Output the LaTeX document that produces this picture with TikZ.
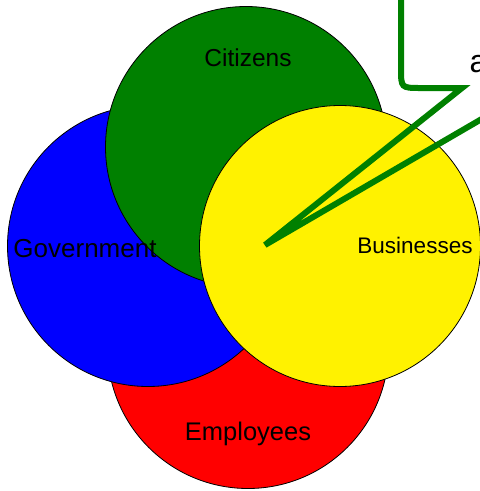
\documentclass[tikz,border=0pt]{standalone}
\usepackage{fontspec}
\setmainfont{Liberation Sans}
\definecolor{leaf}{RGB}{0,128,0}

\begin{document}
\begin{tikzpicture}[x=1pt,y=-1pt,
        group/.style={circle,draw=black,line width=0.8pt,minimum size=281pt,inner sep=0pt},
        tag/.style={anchor=base,font=\fontsize{#1}{28}\selectfont},
        tag/.default=24,
        callout/.style={draw=leaf,line width=6pt,line join=miter}]

    \useasboundingbox (0,0) rectangle (480,491);
    \clip (0,0) rectangle (480,491);

    % groups, back to front
    \node[group, fill=red] (employees) at (248,348) {};
    \node[group, fill=blue] (government) at (148,246) {};
    \node[group, fill=leaf] (citizens) at (246,147) {};
    \node[group, fill=yellow] (businesses) at (340,246) {};

    \node[tag=24.5] (t-citizens) at (248,66) {Citizens};
    \node[tag=26] (t-government) at (85,257) {Government};
    \node[tag=22.5] (t-businesses) at (415,253) {Businesses};
    \node[tag=25.5] (t-employees) at (248,440) {Employees};

    % speech bubble pointing into the middle
    \coordinate (tip) at (265,245);
    \draw[callout] (401,-20) -- (401,68) .. controls (401,88) .. (421,88)
        -- (462,88) -- (tip) -- (535,88) -- (600,88);
    \node[anchor=base west,font=\fontsize{32}{36}\selectfont] (note) at (466,72) {a};

\end{tikzpicture}
\end{document}
